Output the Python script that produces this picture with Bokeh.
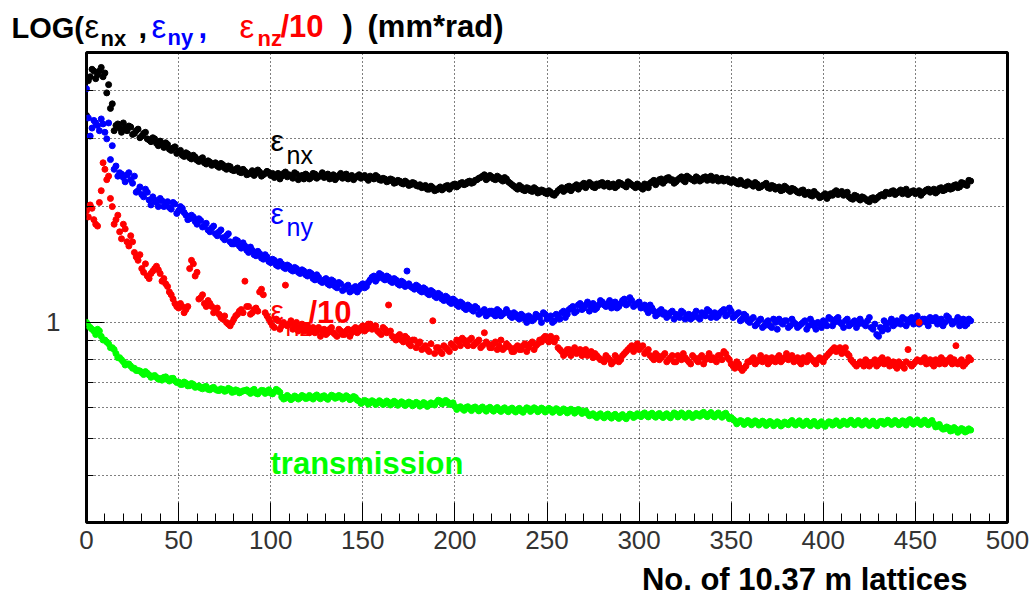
from bokeh.plotting import figure
from bokeh.layouts import column
from bokeh.models import (FixedTicker, SingleIntervalTicker, Range1d, Label,
                          BasicTickFormatter)
from bokeh.embed import file_html
from bokeh.resources import INLINE

# ---------------- data ----------------
# values at even lattice numbers 0, 2, ..., 480
lattice = list(range(0, 481, 2))
# values at odd lattice numbers 1, 3, ..., 479
lattice_mid = list(range(1, 480, 2))

eps_nx = [
    3.45, 4.35, 4.5, 4.4, 4.6, 4.45, 4.15, 3.7, 3.25, 3.2,
    3.3, 3.15, 3.22, 3.1, 3.18, 3.05, 3.12, 2.98, 3.02, 2.92,
    2.96, 2.85, 2.9, 2.8, 2.86, 2.78, 2.72, 2.76, 2.68, 2.72,
    2.64, 2.66, 2.6, 2.63, 2.56, 2.6, 2.53, 2.57, 2.5, 2.54,
    2.48, 2.52, 2.45, 2.47, 2.43, 2.48, 2.44, 2.46, 2.42, 2.47,
    2.41, 2.38, 2.44, 2.4, 2.46, 2.42, 2.37, 2.43, 2.39, 2.36,
    2.41, 2.38, 2.43, 2.39, 2.45, 2.4, 2.36, 2.42, 2.38, 2.44,
    2.4, 2.36, 2.41, 2.38, 2.42, 2.39, 2.37, 2.4, 2.36, 2.39,
    2.34, 2.36, 2.33, 2.35, 2.31, 2.33, 2.29, 2.31, 2.28, 2.3,
    2.26, 2.24, 2.27, 2.22, 2.24, 2.21, 2.25, 2.23, 2.27, 2.25,
    2.29, 2.27, 2.31, 2.29, 2.33, 2.31, 2.35, 2.38, 2.42, 2.37,
    2.39, 2.35, 2.38, 2.33, 2.36, 2.3, 2.26, 2.22, 2.25, 2.2,
    2.23, 2.19, 2.22, 2.18, 2.2, 2.16, 2.18, 2.14, 2.2, 2.24,
    2.21, 2.26, 2.23, 2.28, 2.25, 2.3, 2.27, 2.29, 2.24, 2.27,
    2.31, 2.28, 2.25, 2.29, 2.26, 2.3, 2.27, 2.32, 2.28, 2.24,
    2.27, 2.22, 2.26, 2.3, 2.34, 2.31, 2.36, 2.33, 2.38, 2.35,
    2.32, 2.37, 2.34, 2.4, 2.36, 2.33, 2.37, 2.35, 2.39, 2.36,
    2.34, 2.38, 2.35, 2.33, 2.36, 2.31, 2.33, 2.29, 2.31, 2.27,
    2.3, 2.26, 2.29, 2.25, 2.28, 2.24, 2.27, 2.22, 2.25, 2.21,
    2.24, 2.19, 2.22, 2.18, 2.2, 2.15, 2.18, 2.13, 2.16, 2.11,
    2.14, 2.1, 2.16, 2.18, 2.15, 2.19, 2.16, 2.12, 2.09, 2.13,
    2.08, 2.11, 2.07, 2.1, 2.08, 2.12, 2.15, 2.18, 2.16, 2.2,
    2.17, 2.21, 2.18, 2.15, 2.19, 2.16, 2.2, 2.17, 2.21, 2.18,
    2.22, 2.19, 2.24, 2.21, 2.26, 2.23, 2.28, 2.25, 2.3, 2.27,
    2.33,
]
eps_nx_mid = [
    4.25, 4.55, 4.3, 4.5, 4.35, 3.95, 3.6, 3.15, 3.28, 3.12,
    3.2, 3.24, 3.08, 3.15, 3.02, 3.1, 3.0, 2.95, 3.0, 2.88,
    2.9, 2.93, 2.82, 2.84, 2.75, 2.8, 2.7, 2.74, 2.66, 2.69,
    2.62, 2.68, 2.58, 2.61, 2.58, 2.55, 2.59, 2.52, 2.55, 2.49,
    2.5, 2.46, 2.5, 2.42, 2.45, 2.41, 2.49, 2.4, 2.44, 2.45,
    2.44, 2.41, 2.36, 2.44, 2.39, 2.4, 2.45, 2.35, 2.41, 2.43,
    2.36, 2.44, 2.37, 2.41, 2.38, 2.43, 2.39, 2.35, 2.41, 2.37,
    2.43, 2.39, 2.35, 2.4, 2.37, 2.41, 2.34, 2.38, 2.41, 2.35,
    2.37, 2.32, 2.36, 2.3, 2.34, 2.3, 2.33, 2.27, 2.31, 2.27,
    2.28, 2.25, 2.22, 2.26, 2.2, 2.23, 2.21, 2.26, 2.22, 2.28,
    2.25, 2.3, 2.28, 2.32, 2.3, 2.34, 2.37, 2.4, 2.35, 2.41,
    2.36, 2.4, 2.35, 2.38, 2.32, 2.28, 2.24, 2.27, 2.21, 2.24,
    2.2, 2.24, 2.17, 2.21, 2.17, 2.2, 2.15, 2.17, 2.22, 2.19,
    2.25, 2.2, 2.26, 2.22, 2.28, 2.24, 2.31, 2.25, 2.29, 2.3,
    2.26, 2.3, 2.27, 2.24, 2.31, 2.28, 2.25, 2.3, 2.26, 2.29,
    2.24, 2.29, 2.24, 2.32, 2.28, 2.35, 2.3, 2.37, 2.34, 2.3,
    2.35, 2.39, 2.32, 2.38, 2.35, 2.39, 2.33, 2.38, 2.34, 2.4,
    2.37, 2.33, 2.37, 2.35, 2.32, 2.35, 2.3, 2.34, 2.28, 2.32,
    2.28, 2.31, 2.24, 2.27, 2.3, 2.23, 2.26, 2.24, 2.2, 2.26,
    2.21, 2.23, 2.2, 2.17, 2.21, 2.17, 2.14, 2.19, 2.14, 2.12,
    2.16, 2.13, 2.14, 2.2, 2.17, 2.14, 2.18, 2.1, 2.14, 2.1,
    2.12, 2.09, 2.06, 2.11, 2.1, 2.14, 2.13, 2.17, 2.19, 2.15,
    2.19, 2.16, 2.22, 2.17, 2.2, 2.18, 2.14, 2.19, 2.22, 2.2,
    2.17, 2.23, 2.2, 2.25, 2.22, 2.27, 2.24, 2.31, 2.28, 2.34,
]

eps_ny = [
    4.05, 3.05, 3.35, 3.25, 3.38, 3.12, 3.3, 2.88, 2.55, 2.45,
    2.38, 2.42, 2.35, 2.4, 2.2, 2.15, 2.22, 2.08, 2.12, 2.05,
    2.1, 2.0, 2.06, 1.97, 2.03, 1.95, 1.98, 1.9, 1.86, 1.88,
    1.8, 1.84, 1.78, 1.74, 1.76, 1.7, 1.72, 1.66, 1.68, 1.62,
    1.6, 1.63, 1.56, 1.58, 1.52, 1.54, 1.49, 1.51, 1.46, 1.48,
    1.43, 1.45, 1.4, 1.42, 1.38, 1.4, 1.36, 1.38, 1.34, 1.36,
    1.32, 1.34, 1.29, 1.31, 1.27, 1.3, 1.25, 1.28, 1.23, 1.26,
    1.22, 1.25, 1.21, 1.24, 1.22, 1.26, 1.24, 1.29, 1.32, 1.3,
    1.33, 1.29, 1.31, 1.27, 1.29, 1.25, 1.27, 1.36, 1.24, 1.22,
    1.24, 1.2, 1.22, 1.18, 1.2, 1.16, 1.18, 1.14, 1.16, 1.12,
    1.14, 1.1, 1.12, 1.08, 1.1, 1.07, 1.09, 1.06, 1.08, 1.05,
    1.07, 1.04, 1.07, 1.05, 1.08, 1.04, 1.06, 1.03, 1.05, 1.02,
    1.04, 1.01, 1.05, 1.03, 1.06, 1.02, 1.04, 1.01, 1.04, 1.06,
    1.03, 1.08, 1.1, 1.07, 1.12, 1.09, 1.13, 1.1, 1.08, 1.11,
    1.13, 1.1, 1.14, 1.11, 1.09, 1.12, 1.15, 1.12, 1.14, 1.11,
    1.13, 1.1, 1.08, 1.11, 1.07, 1.05, 1.08, 1.06, 1.04, 1.07,
    1.05, 1.03, 1.06, 1.04, 1.02, 1.05, 1.03, 1.06, 1.04, 1.07,
    1.05, 1.03, 1.06, 1.08, 1.05, 1.07, 1.04, 1.06, 1.02, 1.04,
    1.0, 1.03, 0.99, 1.02, 0.98, 1.01, 0.97, 1.0, 1.02, 0.99,
    1.01, 0.98, 1.0, 0.97, 0.99, 1.01, 0.98, 1.0, 0.96, 0.99,
    1.01, 0.98, 1.02, 1.0, 1.03, 0.99, 1.01, 0.98, 1.0, 0.97,
    1.02, 0.99, 1.01, 0.97, 0.99, 0.92, 0.95, 0.98, 1.0, 0.98,
    1.01, 0.99, 1.02, 1.0, 1.03, 1.01, 0.99, 1.02, 1.0, 1.03,
    1.01, 0.99, 1.02, 1.0, 1.03, 0.99, 1.01, 0.98, 1.02, 0.99,
    1.01,
]
eps_ny_mid = [
    3.4, 3.2, 3.3, 3.15, 3.28, 3.0, 2.65, 2.5, 2.4, 2.43,
    2.32, 2.45, 2.3, 2.18, 2.25, 2.12, 2.18, 2.02, 2.08, 2.0,
    2.07, 2.02, 1.99, 2.05, 1.92, 2.0, 1.93, 1.85, 1.9, 1.83,
    1.86, 1.77, 1.81, 1.72, 1.78, 1.68, 1.74, 1.64, 1.7, 1.6,
    1.64, 1.58, 1.61, 1.54, 1.57, 1.5, 1.53, 1.47, 1.5, 1.44,
    1.46, 1.41, 1.44, 1.39, 1.41, 1.37, 1.39, 1.35, 1.37, 1.33,
    1.35, 1.3, 1.33, 1.28, 1.29, 1.26, 1.29, 1.24, 1.27, 1.21,
    1.24, 1.2, 1.23, 1.2, 1.25, 1.23, 1.27, 1.31, 1.28, 1.34,
    1.3, 1.32, 1.28, 1.3, 1.26, 1.28, 1.24, 1.26, 1.23, 1.25,
    1.21, 1.23, 1.19, 1.21, 1.17, 1.19, 1.15, 1.17, 1.13, 1.15,
    1.11, 1.13, 1.09, 1.11, 1.08, 1.1, 1.05, 1.07, 1.04, 1.07,
    1.05, 1.08, 1.04, 1.06, 1.06, 1.03, 1.05, 1.02, 1.04, 1.0,
    1.03, 1.02, 1.04, 1.0, 1.05, 1.03, 1.0, 1.05, 1.02, 1.07,
    1.05, 1.09, 1.06, 1.11, 1.08, 1.11, 1.07, 1.12, 1.09, 1.14,
    1.11, 1.12, 1.09, 1.13, 1.1, 1.14, 1.11, 1.16, 1.1, 1.12,
    1.09, 1.11, 1.06, 1.09, 1.04, 1.07, 1.05, 1.03, 1.06, 1.02,
    1.04, 1.07, 1.02, 1.05, 1.03, 1.07, 1.02, 1.05, 1.08, 1.03,
    1.06, 1.04, 1.07, 1.04, 1.09, 1.03, 1.05, 1.01, 1.05, 1.01,
    1.02, 0.98, 1.01, 0.97, 1.0, 0.98, 1.02, 0.96, 1.0, 1.01,
    0.97, 1.02, 0.99, 0.98, 1.0, 0.96, 1.02, 0.98, 1.0, 0.97,
    1.0, 1.03, 0.98, 1.02, 1.0, 0.97, 1.02, 0.99, 1.01, 0.99,
    1.0, 0.98, 1.03, 0.96, 0.93, 0.97, 1.01, 0.96, 1.02, 0.99,
    1.0, 1.03, 0.98, 1.02, 0.99, 1.04, 1.0, 1.02, 0.98, 1.01,
    1.03, 1.0, 0.98, 1.04, 1.01, 1.0, 1.03, 1.0, 0.98, 1.02,
]

eps_nz_over_10 = [
    1.95, 2.02, 1.85, 1.78, 2.2, 2.5, 2.4, 2.0, 1.85, 1.72,
    1.8, 1.62, 1.68, 1.52, 1.45, 1.38, 1.42, 1.3, 1.36, 1.4,
    1.34, 1.3, 1.24, 1.18, 1.12, 1.09, 1.1, 1.08, 1.38, 1.42,
    1.35, 1.16, 1.12, 1.14, 1.1, 1.07, 1.05, 1.02, 1.0, 0.98,
    1.02, 1.05, 1.08, 1.28, 1.1, 1.06, 1.09, 1.2, 1.18, 1.04,
    1.0, 0.97, 1.01, 0.98, 1.25, 0.99, 0.96, 1.0, 0.97, 0.95,
    0.98, 0.96, 0.94, 0.97, 0.95, 0.93, 0.96, 0.94, 0.92, 0.95,
    0.93, 0.96, 0.94, 0.97, 0.95, 0.98, 0.96, 0.99, 0.97, 0.95,
    0.93, 0.96, 1.11, 0.92, 0.9, 0.93, 0.89, 0.91, 0.87, 0.9,
    0.88, 0.85, 0.87, 0.84, 1.01, 0.86, 0.84, 0.87, 0.85, 0.88,
    0.86, 0.89, 0.91, 0.88, 0.9, 0.87, 0.89, 0.86, 0.94, 0.88,
    0.86, 0.89, 0.87, 0.85, 0.88, 0.86, 0.84, 0.87, 0.85, 0.88,
    0.86, 0.89, 0.87, 0.9, 0.91, 0.9, 0.92, 0.89, 0.86, 0.84,
    0.83, 0.85, 0.84, 0.83, 0.85, 0.84, 0.82, 0.84, 0.83, 0.81,
    0.8, 0.82, 0.8, 0.79, 0.81, 0.8, 0.83, 0.85, 0.87, 0.86,
    0.85, 0.87, 0.84, 0.82, 0.8, 0.82, 0.81, 0.83, 0.8, 0.82,
    0.79, 0.81, 0.83, 0.8, 0.78, 0.81, 0.79, 0.82, 0.8, 0.83,
    0.81, 0.79, 0.82, 0.84, 0.81, 0.78, 0.76, 0.78, 0.75, 0.77,
    0.79, 0.81, 0.79, 0.82, 0.8, 0.78, 0.81, 0.79, 0.82, 0.8,
    0.83, 0.81, 0.79, 0.81, 0.78, 0.8, 0.82, 0.8, 0.78, 0.81,
    0.79, 0.82, 0.84, 0.86, 0.85, 0.83, 0.86, 0.82, 0.79, 0.77,
    0.79, 0.77, 0.79, 0.78, 0.8, 0.78, 0.81, 0.79, 0.77, 0.79,
    0.76, 0.78, 0.76, 0.85, 0.77, 0.79, 1.0, 0.8, 0.78, 0.8,
    0.77, 0.79, 0.81, 0.78, 0.8, 0.78, 0.87, 0.79, 0.77, 0.79,
    0.8,
]
eps_nz_over_10_mid = [
    1.88, 1.98, 1.8, 2.05, 2.6, 2.35, 2.1, 1.8, 1.9, 1.65,
    1.75, 1.58, 1.62, 1.48, 1.5, 1.35, 1.32, 1.34, 1.38, 1.37,
    1.28, 1.26, 1.2, 1.15, 1.1, 1.12, 1.06, 1.1, 1.45, 1.32,
    1.15, 1.18, 1.1, 1.12, 1.06, 1.09, 1.03, 1.04, 0.99, 1.0,
    1.04, 1.07, 1.06, 1.1, 1.05, 1.08, 1.07, 1.22, 1.06, 1.02,
    0.98, 1.02, 0.96, 1.0, 0.98, 1.01, 0.98, 0.95, 0.99, 0.96,
    0.94, 0.97, 0.95, 0.92, 0.96, 0.94, 0.97, 0.93, 0.96, 0.93,
    0.95, 0.92, 0.96, 0.94, 0.97, 0.95, 0.99, 0.96, 0.98, 0.94,
    0.97, 0.94, 0.95, 0.91, 0.92, 0.9, 0.92, 0.88, 0.9, 0.86,
    0.89, 0.86, 0.85, 0.88, 0.83, 0.86, 0.83, 0.86, 0.84, 0.87,
    0.9, 0.87, 0.9, 0.87, 0.91, 0.88, 0.9, 0.87, 0.89, 0.86,
    0.88, 0.85, 0.9, 0.86, 0.87, 0.84, 0.86, 0.85, 0.87, 0.84,
    0.88, 0.85, 0.88, 0.89, 0.92, 0.89, 0.9, 0.91, 0.85, 0.82,
    0.85, 0.82, 0.86, 0.84, 0.82, 0.85, 0.83, 0.81, 0.82, 0.8,
    0.79, 0.81, 0.78, 0.82, 0.79, 0.82, 0.84, 0.86, 0.84, 0.88,
    0.86, 0.83, 0.85, 0.81, 0.83, 0.8, 0.82, 0.79, 0.81, 0.79,
    0.82, 0.8, 0.81, 0.79, 0.82, 0.8, 0.81, 0.78, 0.81, 0.8,
    0.8, 0.82, 0.8, 0.83, 0.8, 0.77, 0.79, 0.76, 0.76, 0.79,
    0.8, 0.78, 0.8, 0.79, 0.81, 0.79, 0.8, 0.81, 0.79, 0.81,
    0.8, 0.82, 0.8, 0.79, 0.81, 0.79, 0.81, 0.79, 0.8, 0.8,
    0.81, 0.83, 0.85, 0.84, 0.86, 0.84, 0.83, 0.8, 0.78, 0.78,
    0.78, 0.8, 0.77, 0.79, 0.77, 0.8, 0.78, 0.8, 0.78, 0.77,
    0.79, 0.77, 0.79, 0.78, 0.78, 0.8, 0.79, 0.81, 0.79, 0.78,
    0.8, 0.78, 0.8, 0.79, 0.81, 0.8, 0.78, 0.8, 0.78, 0.81,
]

transmission = [
    1.0, 0.97, 0.95, 0.96, 0.92, 0.9, 0.88, 0.86, 0.83, 0.81,
    0.79, 0.78, 0.77, 0.76, 0.75, 0.74, 0.745, 0.73, 0.725, 0.72,
    0.715, 0.72, 0.71, 0.715, 0.705, 0.7, 0.69, 0.695, 0.685, 0.69,
    0.68, 0.675, 0.68, 0.67, 0.675, 0.67, 0.665, 0.67, 0.665, 0.67,
    0.66, 0.665, 0.66, 0.665, 0.66, 0.665, 0.655, 0.66, 0.665, 0.66,
    0.655, 0.66, 0.665, 0.64, 0.635, 0.64, 0.635, 0.64, 0.637, 0.642,
    0.636, 0.64, 0.643, 0.638, 0.642, 0.636, 0.64, 0.644, 0.638, 0.642,
    0.636, 0.64, 0.634, 0.638, 0.625, 0.62, 0.624, 0.618, 0.622, 0.617,
    0.621, 0.616, 0.62, 0.615, 0.619, 0.614, 0.618, 0.613, 0.617, 0.612,
    0.616, 0.611, 0.615, 0.61, 0.614, 0.62, 0.625, 0.618, 0.622, 0.615,
    0.605, 0.6, 0.597, 0.601, 0.596, 0.6, 0.595, 0.599, 0.594, 0.598,
    0.593, 0.597, 0.592, 0.596, 0.591, 0.595, 0.59, 0.594, 0.589, 0.593,
    0.597, 0.592, 0.596, 0.591, 0.595, 0.59, 0.594, 0.589, 0.593, 0.588,
    0.592, 0.587, 0.591, 0.586, 0.59, 0.585, 0.58, 0.575, 0.571, 0.575,
    0.57, 0.574, 0.569, 0.573, 0.568, 0.572, 0.567, 0.571, 0.575, 0.57,
    0.574, 0.578, 0.573, 0.577, 0.572, 0.576, 0.571, 0.575, 0.57, 0.574,
    0.578, 0.573, 0.577, 0.572, 0.576, 0.571, 0.575, 0.58, 0.574, 0.578,
    0.572, 0.577, 0.573, 0.577, 0.571, 0.566, 0.555, 0.55, 0.553, 0.548,
    0.552, 0.547, 0.551, 0.546, 0.55, 0.545, 0.549, 0.544, 0.548, 0.543,
    0.547, 0.551, 0.546, 0.55, 0.545, 0.549, 0.544, 0.548, 0.543, 0.547,
    0.542, 0.546, 0.55, 0.545, 0.549, 0.544, 0.548, 0.552, 0.547, 0.551,
    0.546, 0.55, 0.545, 0.549, 0.544, 0.548, 0.553, 0.548, 0.552, 0.547,
    0.551, 0.546, 0.55, 0.555, 0.549, 0.553, 0.548, 0.552, 0.547, 0.551,
    0.545, 0.538, 0.533, 0.529, 0.532, 0.524, 0.528, 0.523, 0.527, 0.522,
    0.525,
]
transmission_mid = [
    0.98, 0.96, 0.93, 0.95, 0.9, 0.89, 0.86, 0.85, 0.81, 0.8,
    0.775, 0.78, 0.76, 0.75, 0.748, 0.732, 0.738, 0.72, 0.728, 0.712,
    0.708, 0.722, 0.704, 0.716, 0.698, 0.69, 0.7, 0.684, 0.694, 0.678,
    0.684, 0.672, 0.682, 0.668, 0.678, 0.666, 0.672, 0.662, 0.674, 0.658,
    0.668, 0.656, 0.664, 0.668, 0.654, 0.67, 0.652, 0.666, 0.654, 0.668,
    0.652, 0.67, 0.658, 0.632, 0.646, 0.63, 0.644, 0.632, 0.646, 0.634,
    0.646, 0.632, 0.648, 0.633, 0.645, 0.631, 0.647, 0.635, 0.646, 0.632,
    0.645, 0.63, 0.642, 0.628, 0.616, 0.627, 0.613, 0.626, 0.612, 0.626,
    0.612, 0.625, 0.61, 0.624, 0.609, 0.622, 0.608, 0.621, 0.607, 0.62,
    0.606, 0.619, 0.605, 0.618, 0.61, 0.628, 0.614, 0.627, 0.612, 0.618,
    0.594, 0.604, 0.591, 0.604, 0.59, 0.603, 0.589, 0.603, 0.588, 0.602,
    0.588, 0.601, 0.587, 0.6, 0.586, 0.599, 0.585, 0.598, 0.584, 0.6,
    0.587, 0.6, 0.586, 0.599, 0.585, 0.598, 0.584, 0.597, 0.583, 0.596,
    0.582, 0.595, 0.581, 0.594, 0.58, 0.589, 0.572, 0.579, 0.566, 0.579,
    0.565, 0.578, 0.564, 0.577, 0.563, 0.576, 0.562, 0.578, 0.566, 0.579,
    0.569, 0.582, 0.568, 0.581, 0.567, 0.58, 0.566, 0.579, 0.565, 0.582,
    0.568, 0.582, 0.567, 0.581, 0.566, 0.58, 0.57, 0.584, 0.569, 0.583,
    0.568, 0.582, 0.567, 0.581, 0.562, 0.56, 0.545, 0.556, 0.543, 0.556,
    0.542, 0.555, 0.541, 0.554, 0.54, 0.553, 0.539, 0.552, 0.538, 0.551,
    0.542, 0.556, 0.541, 0.555, 0.54, 0.554, 0.539, 0.553, 0.538, 0.552,
    0.537, 0.552, 0.541, 0.555, 0.54, 0.554, 0.543, 0.557, 0.542, 0.556,
    0.541, 0.555, 0.54, 0.554, 0.539, 0.553, 0.544, 0.557, 0.543, 0.556,
    0.542, 0.555, 0.541, 0.559, 0.544, 0.558, 0.543, 0.557, 0.542, 0.556,
    0.535, 0.543, 0.528, 0.535, 0.522, 0.533, 0.518, 0.53, 0.519, 0.529,
]

x_major_step = 50
y_major_ticks = [1]
y_minor_ticks = [0.4, 0.5, 0.6, 0.7, 0.8, 0.9, 2, 3, 4]

BLACK, BLUE, RED, GREEN = "black", "#0000ff", "#ff0000", "#00ff00"
FONT = "Liberation Sans"
BASELINE_FIX = 0.34   # Bokeh draws "alphabetic" labels lower by about this many ems

W = 1036
TOP_H = 51          # strip holding the title (canvas 0 .. 51)
MAIN_H = 509        # canvas 51 .. 560 (frame 52 .. 522)
BOT_H = 599 - TOP_H - MAIN_H   # strip holding the x-axis title (canvas 560 .. 599)


def no_align(f):
    try:
        f.frame_align = False
    except Exception:
        pass


def strip(h):
    f = figure(width=W, height=h, x_range=Range1d(0, W), y_range=Range1d(0, h),
               output_backend="svg", toolbar_location=None, min_border=0)
    f.xaxis.visible = False
    f.yaxis.visible = False
    f.xgrid.visible = False
    f.ygrid.visible = False
    f.outline_line_color = None
    f.background_fill_color = "white"
    f.border_fill_color = "white"
    no_align(f)
    return f


def put(fig, text, sx, sy, size, color, bold=False, align="left"):
    fig.add_layout(Label(x=sx, y=sy + BASELINE_FIX * size,
                         x_units="screen", y_units="screen",
                         text=text, text_font=FONT,
                         text_font_size=f"{size}px", text_color=color,
                         text_font_style="bold" if bold else "normal",
                         text_align=align, text_baseline="alphabetic"))


# ---------------- title strip ----------------
top = strip(TOP_H)


def put_top(text, X, Y, size, color, bold=False):
    put(top, text, X, TOP_H - Y, size, color, bold)


put_top("LOG(", 11, 37, 29, BLACK, True)
put_top("ε", 84, 37, 33, BLACK)
put_top("nx", 100, 45, 22, BLACK, True)
put_top(",", 138, 37, 31, BLACK, True)
put_top("ε", 151, 37, 33, BLUE)
put_top("ny", 167, 44, 22, BLUE, True)
put_top(",", 198, 37, 31, BLUE, True)
put_top("ε", 239, 37, 33, RED)
put_top("nz", 257, 45, 22, RED, True)
put_top("/10", 280, 37, 31, RED, True)
put_top(")", 342, 37, 31, BLACK, True)
put_top("(mm*rad)", 367, 37, 31, BLACK, True)

# ---------------- main plot ----------------
FRAME_L, FRAME_B = 86, 522   # canvas pixel position of frame left / bottom

p = figure(width=W, height=MAIN_H, y_axis_type="log",
           x_range=Range1d(0, 500), y_range=Range1d(0.302, 5.03),
           output_backend="svg", toolbar_location=None,
           min_border_left=86, min_border_right=29,
           min_border_top=1, min_border_bottom=38)
no_align(p)
p.background_fill_color = "white"
p.border_fill_color = "white"
p.outline_line_color = "black"
p.outline_line_width = 3

# x axis
p.xaxis.ticker = SingleIntervalTicker(interval=x_major_step, num_minor_ticks=5)
p.xaxis.axis_line_color = None
p.xaxis.major_tick_in = 20
p.xaxis.major_tick_out = 0
p.xaxis.minor_tick_in = 9
p.xaxis.minor_tick_out = 0
p.xaxis.major_tick_line_color = "black"
p.xaxis.minor_tick_line_color = "black"
p.xaxis.major_label_text_font = FONT
p.xaxis.major_label_text_font_size = "26px"
p.xaxis.major_label_text_color = "#333333"
p.xaxis.major_label_standoff = 8

# y axis
p.yaxis.ticker = FixedTicker(ticks=y_major_ticks, minor_ticks=y_minor_ticks)
p.yaxis.formatter = BasicTickFormatter()
p.yaxis.axis_line_color = None
p.yaxis.major_tick_in = 18
p.yaxis.major_tick_out = 0
p.yaxis.minor_tick_in = 7
p.yaxis.minor_tick_out = 0
p.yaxis.major_tick_line_color = "black"
p.yaxis.minor_tick_line_color = "black"
p.yaxis.major_label_text_font = FONT
p.yaxis.major_label_text_font_size = "26px"
p.yaxis.major_label_text_color = "#333333"
p.yaxis.major_label_standoff = 26

# grids (dotted)
for g in (p.xgrid, p.ygrid):
    g.grid_line_color = "black"
    g.grid_line_dash = "1 3"
    g.grid_line_width = 1
p.ygrid.minor_grid_line_color = "black"
p.ygrid.minor_grid_line_dash = "1 3"
p.ygrid.minor_grid_line_width = 1

# data points
for xs, ys, c in ((lattice, eps_nx, BLACK), (lattice_mid, eps_nx_mid, BLACK),
                  (lattice, eps_ny, BLUE), (lattice_mid, eps_ny_mid, BLUE),
                  (lattice, eps_nz_over_10, RED), (lattice_mid, eps_nz_over_10_mid, RED),
                  (lattice, transmission, GREEN), (lattice_mid, transmission_mid, GREEN)):
    p.scatter(xs, ys, size=6, color=c)


def put_main(text, X, Y, size, color, bold=False):
    put(p, text, X - FRAME_L, FRAME_B - Y, size, color, bold)


put_main("ε", 270, 150, 30, BLACK)
put_main("nx", 286, 163, 25, BLACK)
put_main("ε", 270, 223, 30, BLUE)
put_main("ny", 286, 235, 25, BLUE)
put_main("ε", 270, 320, 30, RED)
put_main("nz", 285, 335, 25, RED)
put_main("/10", 308, 323, 31, RED, True)
put_main("transmission", 270, 474, 31, GREEN, True)

# ---------------- x-axis title strip ----------------
bot = strip(BOT_H)
put(bot, "No. of 10.37 m lattices", 967, 599 - 590, 31, BLACK, True, align="right")

layout = column(top, p, bot, spacing=0)
open("out.html", "w").write(file_html(layout, INLINE))
